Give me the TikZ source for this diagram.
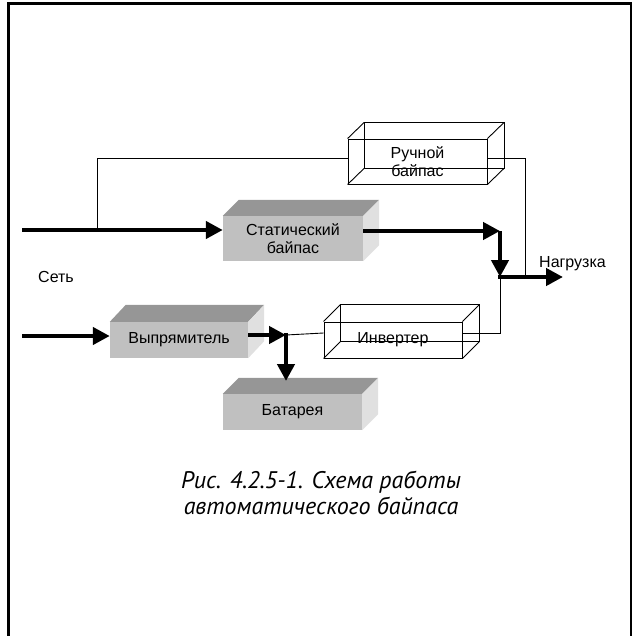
\documentclass[tikz,border=0pt]{standalone}
\usepackage{fontspec}
\setmainfont{Liberation Sans}
\newfontfamily\capfont{PT Sans}
\usetikzlibrary{arrows.meta,calc}
\definecolor{frontc}{HTML}{C0C0C0}
\definecolor{topc}{HTML}{969696}
\definecolor{sidec}{HTML}{E0E0E0}
\begin{document}
\begin{tikzpicture}[x=1pt,y=-1pt,
  lbl/.style={font=\fontsize{16}{17.5}\selectfont, align=center, inner sep=0pt},
  solidbox/.style={lbl, fill=frontc, draw=none},
  wirebox/.style={lbl, draw=black, line width=0.9pt},
  power/.style={line width=4.5pt, -{Triangle[length=17pt,width=17pt]}},
  plain/.style={line width=0.9pt},
  frame/.style={line width=2.5pt}]
\useasboundingbox (0,0) rectangle (633,636);
% frame
\draw[frame] (8.5,640) -- (8.5,3.5) -- (631,3.5) -- (631,640);

% solid boxes
\node[solidbox, minimum width=140pt, minimum height=45pt] (stat) at (293,238.5) {Статический\\байпас};
\node[solidbox, minimum width=138pt, minimum height=36pt] (rect) at (179,340) {Выпрямитель};
\node[solidbox, minimum width=139pt, minimum height=36pt] (bat) at (292.5,412) {Батарея};
\foreach \b/\dx/\dy in {stat/16/16, rect/16/17, bat/16/16}{
  \fill[topc] (\b.north west) -- ++(\dx,-\dy) -- ($(\b.north east)+(\dx,-\dy)$) -- (\b.north east) -- cycle;
  \fill[sidec] (\b.north east) -- ++(\dx,-\dy) -- ($(\b.south east)+(\dx,-\dy)$) -- (\b.south east) -- cycle;
}

% wire boxes
\node[wirebox, minimum width=139pt, minimum height=45pt] (man) at (417.5,161.5) {Ручной\\байпас};
\node[wirebox, minimum width=138pt, minimum height=36pt] (inv) at (393,340) {Инвертер};
\foreach \b/\dx/\dy in {man/16.5/16, inv/17/17}{
  \draw[plain] ($(\b.north west)+(\dx,-\dy)$) rectangle ($(\b.south east)+(\dx,-\dy)$);
  \foreach \a in {north west, north east, south west, south east}
    \draw[plain] (\b.\a) -- ++(\dx,-\dy);
}

% labels
\node[lbl] (net) at (56,277) {Сеть};
\node[lbl, anchor=west] (load) at (539,264) {Нагрузка};

% coordinates
\coordinate (s1) at (22,230);
\coordinate (j1) at (97,230);
\coordinate (c1) at (500,231);
\coordinate (j2) at (500,277);
\coordinate (j3) at (525,277);
\coordinate (ld) at (563,277);
\coordinate (s2) at (22,336);
\coordinate (j4) at (286,335);
\coordinate (bt) at (286,381);

% connectors
\draw[power] (s1) -- (s1 -| stat.west);
\draw[plain] (j1) |- ($(man.west)+(0,-3.5)$);
\draw[plain] ($(man.east)+(0,-3.5)$) -| (j3);
\draw[power] (stat.east |- c1) -- (c1);
\draw[power] (c1) -- (j2);
\draw[power] ([xshift=-2.25pt]j2) -- (ld);
\draw[plain] (j2) |- ($(inv.east)+(0,-7)$);
\draw[power] (s2) -- (s2 -| rect.west);
\draw[power] ($(rect.east)+(0,-5)$) -- (j4);
\draw[plain] (j4) -- ($(inv.west)+(0,-7)$);
\draw[power] ([yshift=2.25pt]j4) -- (bt);

% caption
\node[font=\capfont\itshape\fontsize{24}{25.5}\selectfont, align=center] (cap) at (321,493)
  {Рис. 4.2.5-1. Схема работы\\автоматического байпаса};
\end{tikzpicture}
\end{document}
